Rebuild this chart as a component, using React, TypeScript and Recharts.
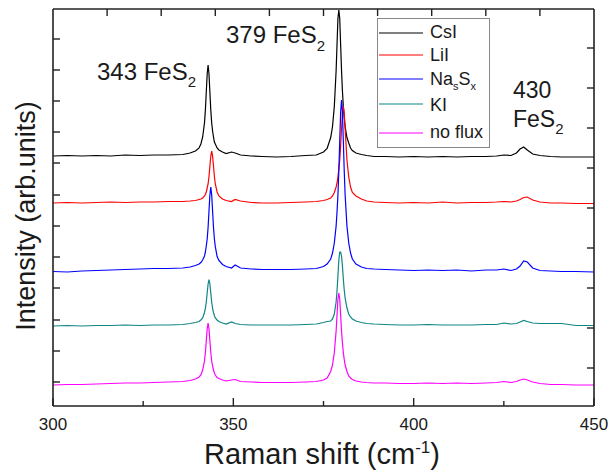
import React from "react";
import { LineChart, Line, XAxis, YAxis } from "recharts";

// Raman shift grid (cm-1), denser around the FeS2 peaks
const RAMAN_SHIFT = [
  300, 304, 308, 312, 316, 320, 324, 328, 332, 336,
  338, 339.5, 340.5, 341, 341.5, 342, 342.25, 342.5, 342.75, 343,
  343.25, 343.5, 343.75, 344, 344.25, 344.5, 344.75, 345, 345.5, 346,
  347, 348, 349.5, 350.5, 352, 355, 358, 362, 366, 370,
  373, 375, 376, 377, 377.5, 378, 378.5, 378.75, 379, 379.25,
  379.5, 379.75, 380, 380.25, 380.5, 380.75, 381, 381.5, 382, 382.5,
  383, 384, 385.5, 387, 389, 392, 396, 400, 404, 408,
  412, 416, 420, 423, 425, 427, 428.5, 429.5, 430.5, 431.5,
  433, 435, 438, 441, 445, 450,
];

// stacked intensities (arb. units, offset per trace)
const CSI = [
  250, 250.5, 250, 250.5, 250, 251, 250.5, 251, 251, 251.5,
  253, 255, 258, 262, 269, 283, 296, 314, 332, 341,
  332, 314, 296, 283, 275, 269, 264, 262, 258, 256,
  254, 252.5, 254, 253, 251, 250, 249.5, 249, 249.5, 250.5,
  251, 254, 257.5, 268.5, 279.5, 299.5, 335.5, 361.5, 387.5, 396,
  387.5, 361.5, 335.5, 315, 299.5, 288, 279.5, 268.5, 263, 258,
  255.5, 253, 251.5, 250.5, 249.5, 249.5, 249, 249.5, 249, 249.5,
  249, 249.5, 249.5, 250, 251, 250.5, 253, 257, 259, 256,
  252, 250.5, 249.5, 249, 249, 249,
];

const LII = [
  203, 203.5, 203, 203.5, 204, 203.5, 204, 204, 204.5, 204.5,
  205, 205.5, 206.5, 207, 208, 210, 211.5, 214, 218, 222,
  229.5, 240, 250, 255, 250, 240, 229.5, 222, 214, 210,
  207, 205.5, 204.5, 206.5, 205, 203.5, 203, 203, 203.5, 204,
  204.5, 205.5, 206.5, 208, 210, 213.5, 219, 223, 229, 237,
  246, 260, 277, 293, 300, 293, 277, 246, 229, 219,
  213.5, 210, 207, 205, 204, 203.5, 203, 203.5, 203, 204,
  203, 203.5, 203.5, 204, 204.5, 204, 205, 206.5, 208.5, 209,
  206, 204, 203, 203, 202.5, 202.5,
];

const NASX = [
  134.5, 134, 135, 135.5, 136, 136.5, 137, 137.5, 137.5, 138,
  139, 140.5, 142, 143.5, 146, 150, 154, 160, 167, 178.5,
  195, 211, 219, 211, 195, 178.5, 167, 159.5, 149.5, 145.5,
  141.5, 139.5, 138, 141, 138, 137, 136.5, 136.5, 136.5, 137,
  137.5, 139.5, 142, 147, 153, 163, 180, 194, 211, 235,
  265, 294, 306, 294, 265, 235, 211, 180, 163, 153,
  147, 142, 139, 137.5, 137, 136.5, 136, 135.5, 136, 135.5,
  136, 135, 136, 136, 137, 135.5, 137, 140, 145, 144,
  138, 135.5, 135, 134.5, 134.5, 134,
];

const KI = [
  80, 80.5, 80, 80.5, 80.5, 81, 80.5, 81, 81, 81.5,
  82.5, 83.5, 84.5, 86, 88, 93.5, 97.5, 104, 113, 122,
  126.5, 122, 113, 104, 97.5, 93.5, 90.5, 88, 86, 84.5,
  83, 82, 84, 82.5, 81.5, 81, 81, 81, 81, 81.5,
  82, 83.5, 84.5, 85, 87, 92, 104, 115, 130, 146,
  154, 154, 150, 140, 127, 116, 108, 98, 92, 89,
  87, 85, 83.5, 82.5, 82, 81.5, 81, 81, 81.5, 81,
  81, 81, 81.5, 81.5, 83, 82, 82.5, 84, 85.5, 84.5,
  83, 82.5, 82.5, 82.5, 80.5, 80.5,
];

const NO_FLUX = [
  21, 21.5, 21.5, 22, 22.5, 23, 23, 23.5, 24, 24.5,
  25.5, 27, 29, 31, 36, 45, 53.5, 65, 77, 83,
  77, 65, 53.5, 45, 40, 36, 33, 31, 28.5, 27.5,
  26, 25, 26, 26.5, 24.5, 24, 23.5, 23.5, 23.5, 24,
  24.5, 26, 28, 34.5, 41, 53.5, 75, 91, 107, 113,
  107, 91, 75, 63, 53.5, 46.5, 41, 34.5, 30, 28,
  26.5, 25, 24, 23.5, 23, 23, 22.5, 22.5, 23, 22.5,
  23, 22.5, 23, 23.5, 24.5, 23.5, 24.5, 26, 27, 26,
  24, 22.5, 21.5, 21.5, 21, 21,
];

const X_TICKS_BOTTOM = [300, 325, 350, 375, 400, 425, 450];
const X_TICKS_TOP = [315, 330, 345, 360, 375, 390, 405, 420, 435];
const Y_TICKS_LEFT = [24, 55, 86, 118, 149, 180, 211, 243, 274, 305, 336, 367];
const Y_TICKS_RIGHT = [38, 78, 118, 158, 198, 238, 278, 318, 358];

const SERIES = [
  { key: "csi", name: "CsI", color: "#000000", values: CSI },
  { key: "lii", name: "LiI", color: "#ff0000", values: LII },
  { key: "nasx", name: "NasSx", color: "#0000ff", values: NASX },
  { key: "ki", name: "KI", color: "#108585", values: KI },
  { key: "noflux", name: "no flux", color: "#ff00ff", values: NO_FLUX },
];

const data = RAMAN_SHIFT.map((x, i) => {
  const row: Record<string, number> = { x };
  SERIES.forEach((s) => {
    row[s.key] = s.values[i];
  });
  return row;
});

const FONT = '"Liberation Sans", Arial, sans-serif';
const INK = "#1a1a1a";
const axisLine = { stroke: "#222", strokeWidth: 1.6 };

const BottomTick = (props: any) => {
  const { x, y, payload } = props;
  const major = payload.value % 50 === 0;
  return (
    <g>
      <line x1={x} x2={x} y1={y} y2={y - (major ? 8 : 5)} stroke="#222" strokeWidth={1.4} />
      {major && (
        <text x={x} y={y + 24} textAnchor="middle" fontSize={17} fill={INK} fontFamily={FONT}>
          {payload.value}
        </text>
      )}
    </g>
  );
};

const TopTick = (props: any) => {
  const { x, y } = props;
  return <line x1={x} x2={x} y1={y} y2={y + 7} stroke="#222" strokeWidth={1.4} />;
};

const LeftTick = (props: any) => {
  const { x, y } = props;
  return <line x1={x} x2={x + 7} y1={y} y2={y} stroke="#222" strokeWidth={1.4} />;
};

const RightTick = (props: any) => {
  const { x, y } = props;
  return <line x1={x} x2={x - 7} y1={y} y2={y} stroke="#222" strokeWidth={1.4} />;
};

const Sub = ({ children, size = 15, drop = 7 }: any) => (
  <span style={{ fontSize: size, position: "relative", top: drop }}>{children}</span>
);

const textAt = (left: number, top: number, size: number): React.CSSProperties => ({
  position: "absolute",
  left,
  top,
  fontSize: size,
  lineHeight: `${size}px`,
  whiteSpace: "nowrap",
  color: INK,
});

const LEGEND_ROWS = [
  { label: <>CsI</>, lineY: 33, top: 22.5 },
  { label: <>LiI</>, lineY: 55, top: 46 },
  { label: <>Na<Sub size={11} drop={5}>s</Sub>S<Sub size={11} drop={5}>x</Sub></>, lineY: 79, top: 69.5 },
  { label: <>KI</>, lineY: 104, top: 96 },
  { label: <>no flux</>, lineY: 133, top: 122.5 },
];

export default function App() {
  return (
    <div style={{ position: "absolute", left: 0, top: 0, width: 608, height: 473, fontFamily: FONT, background: "#fff" }}>
      <LineChart width={608} height={473} data={data} margin={{ top: 8, right: 13, bottom: 0, left: 8 }}>
        <XAxis
          xAxisId="bottom"
          dataKey="x"
          type="number"
          domain={[300, 450]}
          ticks={X_TICKS_BOTTOM}
          interval={0}
          height={67}
          tickSize={0}
          tickMargin={0}
          tickLine={false}
          tick={BottomTick}
          axisLine={axisLine}
          allowDataOverflow
        />
        <XAxis
          xAxisId="top"
          orientation="top"
          dataKey="x"
          type="number"
          domain={[300, 450]}
          ticks={X_TICKS_TOP}
          interval={0}
          height={1}
          tickSize={0}
          tickMargin={0}
          tickLine={false}
          tick={TopTick}
          axisLine={axisLine}
          allowDataOverflow
        />
        <YAxis
          yAxisId="left"
          type="number"
          domain={[0, 397]}
          ticks={Y_TICKS_LEFT}
          interval={0}
          width={45}
          tickSize={0}
          tickMargin={0}
          tickLine={false}
          tick={LeftTick}
          axisLine={axisLine}
          allowDataOverflow
        />
        <YAxis
          yAxisId="right"
          orientation="right"
          type="number"
          domain={[0, 397]}
          ticks={Y_TICKS_RIGHT}
          interval={0}
          width={1}
          tickSize={0}
          tickMargin={0}
          tickLine={false}
          tick={RightTick}
          axisLine={axisLine}
          allowDataOverflow
        />
        {SERIES.map((s) => (
          <Line
            key={s.key}
            xAxisId="bottom"
            yAxisId="left"
            type="linear"
            dataKey={s.key}
            name={s.name}
            stroke={s.color}
            strokeWidth={1.2}
            dot={false}
            isAnimationActive={false}
          />
        ))}
      </LineChart>

      {/* peak annotations */}
      <div style={textAt(97, 59.5, 24)}>
        343 FeS<Sub>2</Sub>
      </div>
      <div style={textAt(226, 22.5, 24)}>
        379 FeS<Sub size={15} drop={8}>2</Sub>
      </div>
      <div style={textAt(513, 78.5, 23)}>430</div>
      <div style={textAt(513, 107.5, 23)}>
        FeS<Sub>2</Sub>
      </div>

      {/* legend */}
      <div
        style={{
          position: "absolute",
          left: 377,
          top: 18,
          width: 111,
          height: 128,
          border: "1px solid #888",
          background: "#fff",
        }}
      />
      <svg width={608} height={473} style={{ position: "absolute", left: 0, top: 0, pointerEvents: "none" }}>
        {LEGEND_ROWS.map((r, i) => (
          <line key={i} x1={379} x2={423} y1={r.lineY} y2={r.lineY} stroke={SERIES[i].color} strokeWidth={1.2} />
        ))}
      </svg>
      {LEGEND_ROWS.map((r, i) => (
        <div key={i} style={textAt(430, r.top, 18)}>
          {r.label}
        </div>
      ))}

      {/* axis titles */}
      <div
        style={{
          position: "absolute",
          left: 25.5,
          top: 216,
          transform: "translate(-50%, -50%) rotate(-90deg)",
          fontSize: 27,
          lineHeight: "27px",
          whiteSpace: "nowrap",
          color: INK,
        }}
      >
        Intensity (arb.units)
      </div>
      <div
        style={{
          position: "absolute",
          left: 322,
          top: 439.5,
          transform: "translateX(-50%)",
          fontSize: 29,
          lineHeight: "29px",
          whiteSpace: "nowrap",
          color: INK,
        }}
      >
        Raman shift (cm<span style={{ fontSize: 17, position: "relative", top: -11 }}>-1</span>)
      </div>
    </div>
  );
}
